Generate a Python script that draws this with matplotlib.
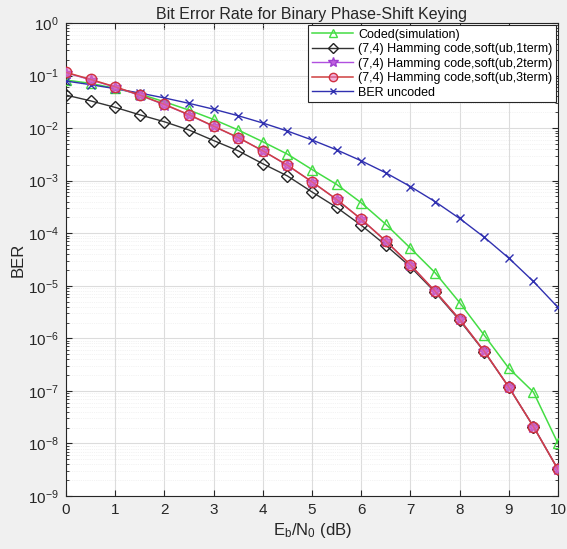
import matplotlib
matplotlib.use("Agg")
import matplotlib.pyplot as plt
from matplotlib.ticker import FixedLocator, NullFormatter, LogFormatterSciNotation

plt.rcParams['font.family'] = ['Liberation Sans', 'DejaVu Sans']
plt.rcParams['mathtext.fontset'] = 'custom'
plt.rcParams['mathtext.rm'] = 'Liberation Sans'
plt.rcParams['mathtext.it'] = 'Liberation Sans:italic'
plt.rcParams['mathtext.bf'] = 'Liberation Sans:bold'

ebn0 = [0, 0.5, 1, 1.5, 2, 2.5, 3, 3.5, 4, 4.5, 5, 5.5, 6, 6.5, 7, 7.5, 8, 8.5, 9, 9.5, 10]

ber_coded_sim = [0.082, 0.071, 0.057, 0.0445, 0.0317, 0.022, 0.0146, 0.0092, 0.0055, 0.0032,
                 1.63e-3, 8.5e-4, 3.8e-4, 1.48e-4, 5.2e-5, 1.78e-5, 4.8e-6, 1.15e-6, 2.7e-7, 9.5e-8, 1.0e-8]
ber_ub_1term = [0.0425, 0.033, 0.0248, 0.0179, 0.0132, 0.0092, 0.0058, 0.0037, 0.0021, 0.00123,
                6.1e-4, 3.1e-4, 1.42e-4, 5.9e-5, 2.3e-5, 7.6e-6, 2.2e-6, 5.6e-7, 1.18e-7, 2.1e-8, 3.2e-9]
ber_ub_2term = [0.113, 0.083, 0.060, 0.042, 0.028, 0.0178, 0.0108, 0.0066, 0.0037, 0.00196,
                9.5e-4, 4.4e-4, 1.85e-4, 7.1e-5, 2.5e-5, 7.9e-6, 2.3e-6, 5.7e-7, 1.18e-7, 2.1e-8, 3.2e-9]
ber_ub_3term = [0.115, 0.0845, 0.061, 0.0426, 0.0283, 0.018, 0.0109, 0.0066, 0.0037, 0.00197,
                9.5e-4, 4.4e-4, 1.85e-4, 7.1e-5, 2.5e-5, 7.9e-6, 2.3e-6, 5.7e-7, 1.18e-7, 2.1e-8, 3.2e-9]
ber_uncoded = [7.86e-2, 6.71e-2, 5.63e-2, 4.65e-2, 3.75e-2, 2.96e-2, 2.29e-2, 1.72e-2, 1.25e-2, 8.8e-3,
               5.95e-3, 3.86e-3, 2.39e-3, 1.41e-3, 7.73e-4, 4.0e-4, 1.91e-4, 8.4e-5, 3.36e-5, 1.21e-5, 3.87e-6]

labels = ['Coded(simulation)',
          '(7,4) Hamming code,soft(ub,1term)',
          '(7,4) Hamming code,soft(ub,2term)',
          '(7,4) Hamming code,soft(ub,3term)',
          'BER uncoded']
x_ticks = [0, 1, 2, 3, 4, 5, 6, 7, 8, 9, 10]
y_ticks = [1e-9, 1e-8, 1e-7, 1e-6, 1e-5, 1e-4, 1e-3, 1e-2, 1e-1, 1e0]

fig = plt.figure(figsize=(5.67, 5.49), dpi=100, facecolor='#F0F0F0')
ax = fig.add_axes([66/567, 53/549, 492/567, 473/549])
ax.set_facecolor('white')

ax.semilogy(ebn0, ber_coded_sim, color='#44DD44', lw=1.1, marker='^', ms=7.5,
            mfc='none', mec='#44DD44', label=labels[0], zorder=3)
ax.semilogy(ebn0, ber_ub_1term, color='#333333', lw=1.0, marker='D', ms=6,
            mfc='none', mec='#222222', label=labels[1], zorder=3)
ax.semilogy(ebn0, ber_ub_2term, color='#B050E0', lw=1.0, marker='*', ms=9,
            mfc='#C060E0', mec='#A040D0', label=labels[2], zorder=4)
ax.semilogy(ebn0, ber_ub_3term, color='#D04040', lw=1.1, marker='o', ms=7.5,
            mfc=(0.9, 0.45, 0.75, 0.55), mec='#D03040', label=labels[3], zorder=5)
ax.semilogy(ebn0, ber_uncoded, color='#3030B0', lw=1.0, marker='x', ms=5.5,
            mec='#3030B0', label=labels[4], zorder=3)

ax.set_xlim(0, 10)
ax.set_ylim(1e-9, 1)
ax.xaxis.set_major_locator(FixedLocator(x_ticks))
ax.yaxis.set_major_locator(FixedLocator(y_ticks))
ax.yaxis.set_major_formatter(LogFormatterSciNotation())
minors = [m * d for d in y_ticks[:-1] for m in range(2, 10)]
ax.yaxis.set_minor_locator(FixedLocator(minors))
ax.yaxis.set_minor_formatter(NullFormatter())

ax.grid(True, which='major', color='#DCDCDC', lw=0.8, zorder=0)
ax.grid(True, which='minor', axis='y', color='#E8E8E8', lw=0.5, ls=':', zorder=0)
ax.set_axisbelow(True)

ax.tick_params(which='both', direction='in', top=True, right=True, labelsize=11, colors='#262626')
ax.tick_params(which='major', length=4, pad=5)
ax.tick_params(which='minor', length=2)
for s in ax.spines.values():
    s.set_color('#262626')
    s.set_linewidth(0.8)

ax.set_title('Bit Error Rate for Binary Phase-Shift Keying', fontsize=11.5, color='#262626', pad=3)
ax.set_xlabel(r'E$_\mathregular{b}$/N$_\mathregular{0}$ (dB)', fontsize=12, color='#262626', labelpad=3)
ax.set_ylabel('BER', fontsize=12, color='#262626', labelpad=2)

leg = ax.legend(loc='upper right', fontsize=9, fancybox=False, framealpha=1,
                edgecolor='#262626', borderpad=0.3, labelspacing=0.2, handlelength=3.3,
                handletextpad=0.4, borderaxespad=0.15, markerscale=0.8)
leg.get_frame().set_linewidth(0.8)

fig.savefig('out.png', dpi=100, facecolor=fig.get_facecolor())
